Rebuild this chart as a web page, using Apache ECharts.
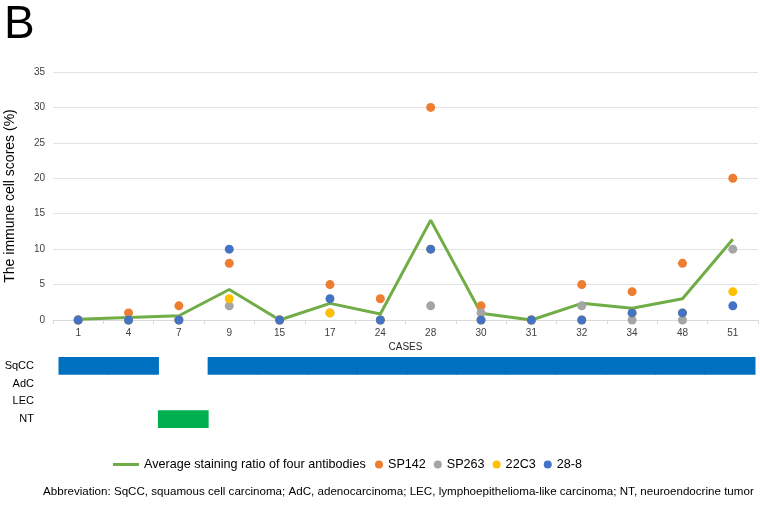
<!DOCTYPE html>
<html><head><meta charset="utf-8">
<script src="https://cdn.jsdelivr.net/npm/echarts@6/dist/echarts.min.js"></script>
<style>html,body{margin:0;padding:0;background:#fff}#c{width:760px;height:513px}</style>
</head><body><div id="c"></div>
<script>
const cases = ['1','4','7','9','15','17','24','28','30','31','32','34','48','51'];
const average = [0.1,0.35,0.6,4.3,0,2.35,0.85,14.1,0.95,0,2.35,1.65,3.0,11.4];
const sp142 = [0,1,2,8,0,5,3,30,2,0,5,4,8,20];
const sp263 = [0,0,0,2,0,1,0,2,1,0,2,0,0,10];
const c22c3 = [0,0,0,3,0,1,0,10,0,0,0,1,1,4];
const c288  = [0,0,0,10,0,3,0,10,0,0,0,1,1,2];
const tumorTypes = ['SqCC','AdC','LEC','NT'];
const caseType = ['SqCC','SqCC','NT','SqCC','SqCC','SqCC','SqCC','SqCC','SqCC','SqCC','SqCC','SqCC','SqCC','SqCC'];
const typeColors = {SqCC:'#0070C0', AdC:'#5B9BD5', LEC:'#A5A5A5', NT:'#00B050'};
const abbreviation = 'Abbreviation: SqCC, squamous cell carcinoma; AdC, adenocarcinoma; LEC, lymphoepithelioma-like carcinoma; NT, neuroendocrine tumor';

const chart = echarts.init(document.getElementById('c'));
const FONT = 'Liberation Sans, Arial, sans-serif';
const scatter = (name, data, color) => ({
  name, type:'scatter', data, symbolSize:9, itemStyle:{color, opacity:1},
  xAxisIndex:0, yAxisIndex:0
});
chart.setOption({
  animation:false,
  textStyle:{fontFamily:FONT},
  grid:[
    {left:53, right:2, top:72, bottom:193, containLabel:false, outerBoundsMode:'none'},
    {left:59, right:5, top:357, height:71, containLabel:false, outerBoundsMode:'none'}
  ],
  xAxis:[
    {type:'category', gridIndex:0, data:cases, boundaryGap:true,
     axisLine:{lineStyle:{color:'#D9D9D9'}}, axisTick:{show:true, length:4, lineStyle:{color:'#D9D9D9'}},
     axisLabel:{color:'#404040', fontSize:10, margin:8, fontFamily:FONT},
     name:'CASES', nameLocation:'middle', nameGap:22, nameTextStyle:{color:'#262626', fontSize:10, fontFamily:FONT}},
    {type:'category', gridIndex:1, data:cases, boundaryGap:true, show:false}
  ],
  yAxis:[
    {type:'value', gridIndex:0, min:0, max:35, interval:5,
     axisLine:{show:false}, axisTick:{show:false},
     splitLine:{lineStyle:{color:'#E3E3E3'}},
     axisLabel:{color:'#404040', fontSize:10, margin:8, fontFamily:FONT},
     name:'The immune cell scores (%)', nameLocation:'middle', nameGap:36,
     nameTextStyle:{color:'#000', fontSize:14, fontFamily:FONT}},
    {type:'category', gridIndex:1, data:tumorTypes, inverse:true,
     axisLine:{show:false}, axisTick:{show:false}, splitLine:{show:false},
     axisLabel:{color:'#000', fontSize:11, margin:25, fontFamily:FONT}}
  ],
  legend:[
    {left:108, top:453, itemWidth:26, itemHeight:3, itemGap:10,
     data:[{name:'Average staining ratio of four antibodies', icon:'rect'}],
     textStyle:{color:'#000', fontSize:12.6, fontFamily:FONT}},
    {left:370, top:453, itemWidth:8, itemHeight:8, itemGap:8, data:['SP142','SP263','22C3','28-8'],
     textStyle:{color:'#000', fontSize:12.6, fontFamily:FONT}}
  ],
  series:[
    {name:'Average staining ratio of four antibodies', type:'line', data:average, symbol:'none',
     lineStyle:{color:'#70AD47', width:3}, itemStyle:{color:'#70AD47'}, xAxisIndex:0, yAxisIndex:0, z:1},
    scatter('SP142', sp142, '#ED7D31'),
    scatter('SP263', sp263, '#A5A5A5'),
    scatter('22C3', c22c3, '#FFC000'),
    scatter('28-8', c288, '#4472C4'),
    {type:'custom', xAxisIndex:1, yAxisIndex:1,
     data: caseType.map((t,i)=>({value:[i, tumorTypes.indexOf(t)], itemStyle:{color:typeColors[t]}})),
     renderItem:(params, api)=>{
       const c = api.coord([api.value(0), api.value(1)]);
       const w = api.size([1,0])[0];
       const h = api.size([0,1])[1];
       return {type:'rect', shape:{x:c[0]-w/2-0.5, y:c[1]-h/2, width:w+1, height:h},
               style:{fill:api.visual('color')}};
     }}
  ],
  graphic:[
    {type:'text', left:4, top:2, style:{text:'B', font:'46px '+FONT, fill:'#000'}},
    {type:'text', left:43, top:486, style:{text:abbreviation, font:'11.6px '+FONT, fill:'#000'}}
  ]
});
</script></body></html>
